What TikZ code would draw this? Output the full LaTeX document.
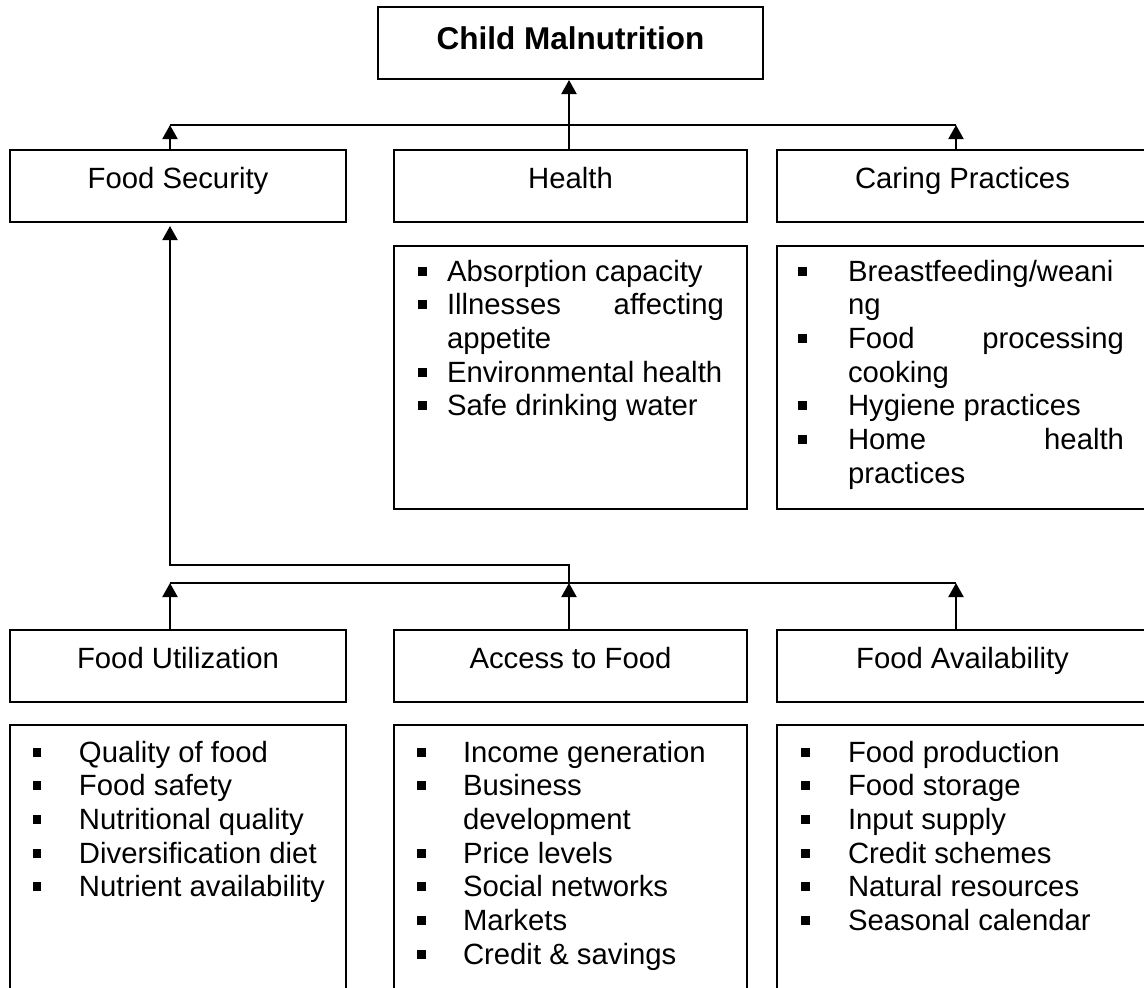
\documentclass[tikz,border=0pt]{standalone}
\usepackage{fontspec}
\setmainfont{Liberation Sans}
\usetikzlibrary{arrows.meta}

% square bullet and list lines (indent, text)
\newcommand\sqb{\raisebox{5.5pt}{\rule{8.5pt}{9pt}}}
\newcommand\bitem[2]{\hbox to \hsize{\hbox to #1{\sqb\hfil}#2\hfil}}
\newcommand\bjust[3]{\hbox to \hsize{\hbox to #1{\sqb\hfil}#2\hfil #3}}
\newcommand\bcont[2]{\hbox to \hsize{\hskip #1\relax #2\hfil}}

\begin{document}
\begin{tikzpicture}[x=1pt,y=-1pt,
  line width=2pt,
  box/.style={draw, rectangle, inner sep=0pt, anchor=north west,
    font=\fontsize{29.3}{33.7}\selectfont},
  headbox/.style={box, minimum height=72pt, text height=38pt, text depth=34pt},
  listbox/.style={draw, rectangle, inner sep=0pt, anchor=north west},
  listtext/.style={inner sep=0pt, anchor=base west,
    font=\fontsize{29.3}{33.7}\selectfont},
  arr/.style={-{Triangle[width=15pt,length=14pt]}}]

\useasboundingbox (0,0) rectangle (1144,988);
\clip (0,0) rectangle (1144,988);

% top
\node[box, minimum width=385pt, minimum height=72pt, text height=42pt, text depth=30pt,
  font=\fontsize{31.5}{36}\selectfont\bfseries] (cm) at (377,6) {Child Malnutrition};

% second row
\node[headbox, minimum width=336pt] (fs) at (9,149) {Food Security};
\node[headbox, minimum width=353pt] (he) at (393,149) {Health};
\node[headbox, minimum width=371pt] (cp) at (776,149) {Caring Practices};

\node[listbox, minimum width=353pt, minimum height=263pt] (helb) at (393,245) {};
\node[listbox, minimum width=400pt, minimum height=263pt] (cplb) at (776,245) {};

\node[listtext] (helist) at (417,281) {\vtop{\hsize=306pt
  \bitem{29pt}{Absorption capacity}
  \bjust{29pt}{Illnesses}{affecting}
  \bcont{29pt}{appetite}
  \bitem{29pt}{Environmental health}
  \bitem{29pt}{Safe drinking water}}};

\node[listtext] (cplist) at (797,281) {\vtop{\hsize=326pt
  \bitem{50pt}{Breastfeeding/weani}
  \bcont{50pt}{ng}
  \bjust{50pt}{Food}{processing}
  \bcont{50pt}{cooking}
  \bitem{50pt}{Hygiene practices}
  \bjust{50pt}{Home}{health}
  \bcont{50pt}{practices}}};

% third row
\node[headbox, minimum width=336pt] (fu) at (9,629) {Food Utilization};
\node[headbox, minimum width=353pt] (af) at (393,629) {Access to Food};
\node[headbox, minimum width=371pt] (fa) at (776,629) {Food Availability};

\node[listbox, minimum width=336pt, minimum height=300pt] (fulb) at (9,724) {};
\node[listbox, minimum width=353pt, minimum height=300pt] (aflb) at (393,724) {};
\node[listbox, minimum width=400pt, minimum height=300pt] (falb) at (776,724) {};

\node[listtext] (fulist) at (32,762) {\vtop{\hsize=300pt
  \bitem{46pt}{Quality of food}
  \bitem{46pt}{Food safety}
  \bitem{46pt}{Nutritional quality}
  \bitem{46pt}{Diversification diet}
  \bitem{46pt}{Nutrient availability}}};

\node[listtext] (aflist) at (416,762) {\vtop{\hsize=300pt
  \bitem{46pt}{Income generation}
  \bitem{46pt}{Business}
  \bcont{46pt}{development}
  \bitem{46pt}{Price levels}
  \bitem{46pt}{Social networks}
  \bitem{46pt}{Markets}
  \bitem{46pt}{Credit \& savings}}};

\node[listtext] (falist) at (800,762) {\vtop{\hsize=300pt
  \bitem{47pt}{Food production}
  \bitem{47pt}{Food storage}
  \bitem{47pt}{Input supply}
  \bitem{47pt}{Credit schemes}
  \bitem{47pt}{Natural resources}
  \bitem{47pt}{Seasonal calendar}}};

% upper bus
\coordinate (busL) at (170,125);
\coordinate (busR) at (956,125);
\coordinate (busM) at (569,125);
\draw (busL) -- (busR);
\draw[arr] (fs.north -| busL) -- (busL);
\draw[arr] (cp.north -| busR) -- (busR);
\draw[arr] (he.north -| busM) -- (cm.south -| busM);

% lower bus
\coordinate (lowL) at (170,583);
\coordinate (lowM) at (569,583);
\coordinate (lowR) at (956,583);
\coordinate (jogM) at (569,565);
\coordinate (jogL) at (170,565);
\draw (lowL) -- (lowR);
\draw[arr] (fu.north -| lowL) -- (lowL);
\draw[arr] (af.north -| lowM) -- (lowM);
\draw[arr] (fa.north -| lowR) -- (lowR);
\draw[arr, shorten >=3pt] (lowM) -- (jogM) -- (jogL) -- (fs.south -| jogL);
\end{tikzpicture}
\end{document}
